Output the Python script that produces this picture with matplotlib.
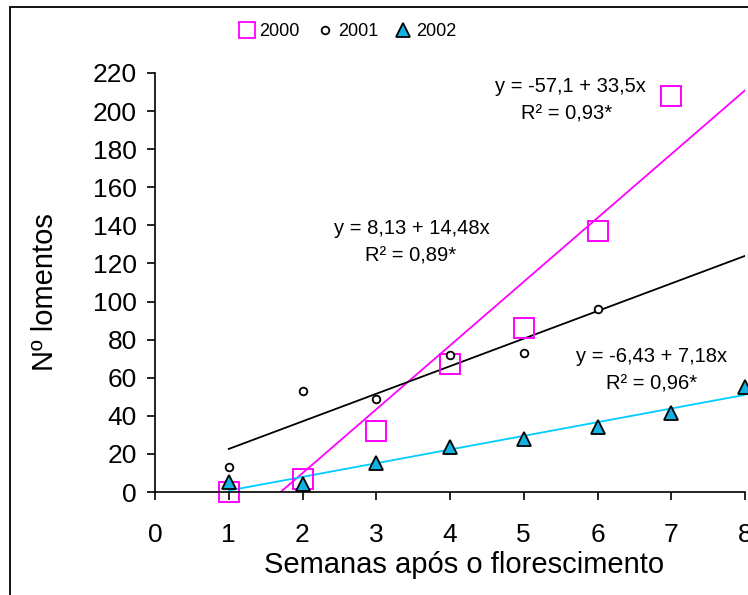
import matplotlib.pyplot as plt
import matplotlib.patches as mpatches
from matplotlib.lines import Line2D
import numpy as np

plt.rcParams['font.family'] = ['Liberation Sans', 'DejaVu Sans']

# Nº de lomentos por semana após o florescimento
semanas = [1, 2, 3, 4, 5, 6, 7]
y2000 = [0, 7, 32, 67, 86, 137, 208]
semanas_2001 = [1, 2, 3, 4, 5, 6]
y2001 = [13, 53, 49, 72, 73, 96]
semanas_2002 = [1, 2, 3, 4, 5, 6, 7, 8]
y2002 = [5, 4, 15, 23.5, 28, 34, 41.5, 55]

# Coeficientes das regressões (a + b*x) e R²
coef2000 = (-57.1, 33.5)
coef2001 = (8.13, 14.48)
coef2002 = (-6.43, 7.18)
r2 = {'2000': '0,93*', '2001': '0,89*', '2002': '0,96*'}

magenta = '#FF00FF'
azul = '#00CCFF'
azul_marc = '#13B2E3'

fig = plt.figure(figsize=(7.48, 5.95), dpi=100)
ax = fig.add_axes([155 / 748, 1 - 492 / 595, 590 / 748, 419 / 595])

xr = np.array([1, 8])
ax.plot(xr, coef2000[0] + coef2000[1] * xr, color=magenta, lw=1.3)
ax.plot(xr, coef2001[0] + coef2001[1] * xr, color='black', lw=1.3)
ax.plot(xr, coef2002[0] + coef2002[1] * xr, color=azul, lw=1.3)

ax.plot(semanas, y2000, 's', ms=14, mfc='none', mec=magenta, mew=1.4, clip_on=False)
ax.plot(semanas_2001, y2001, 'o', ms=5.5, mfc='white', mec='black', mew=1.3, clip_on=False)
ax.plot(semanas_2002, y2002, '^', ms=10, mfc=azul_marc, mec='black', mew=1.3, clip_on=False)

ax.set_xlim(0, 8)
ax.set_ylim(0, 220)
ax.set_xticks(range(0, 9))
ax.set_yticks(range(0, 221, 20))
for s in ['top', 'right']:
    ax.spines[s].set_visible(False)
for s in ['left', 'bottom']:
    ax.spines[s].set_linewidth(1.2)
ax.tick_params(axis='both', direction='out', length=6, width=1.2, labelsize=19)
ax.tick_params(axis='x', pad=16)
ax.tick_params(axis='y', pad=7)

ax.set_xlabel('Semanas após o florescimento', fontsize=21)
ax.xaxis.set_label_coords(0.524, -0.14)
ax.set_ylabel('Nº lomentos', fontsize=21)
ax.yaxis.set_label_coords(-0.163, 0.477)

# Equações
kw = dict(fontsize=14.5, ha='center', va='center', transform=fig.transFigure)
fig.text(570 / 748, 1 - 86 / 595, 'y = -57,1 + 33,5x', **kw)
fig.text(567 / 748, 1 - 114 / 595, 'R² = ' + r2['2000'], **kw)
fig.text(412 / 748, 1 - 229 / 595, 'y = 8,13 + 14,48x', **kw)
fig.text(411 / 748, 1 - 256 / 595, 'R² = ' + r2['2001'], **kw)
fig.text(652 / 748, 1 - 356 / 595, 'y = -6,43 + 7,18x', **kw)
fig.text(652 / 748, 1 - 384 / 595, 'R² = ' + r2['2002'], **kw)

handles = [
    Line2D([], [], ls='none', marker='s', ms=11, mfc='none', mec=magenta, mew=1.3),
    Line2D([], [], ls='none', marker='o', ms=5.5, mfc='white', mec='black', mew=1.3),
    Line2D([], [], ls='none', marker='^', ms=10, mfc=azul_marc, mec='black', mew=1.3),
]
fig.legend(handles, ['2000', '2001', '2002'], loc='center', ncol=3,
           bbox_to_anchor=(348 / 748, 1 - 32 / 595), frameon=False,
           fontsize=13, handlelength=0.8, handletextpad=0.3, columnspacing=1.0)

# Moldura da figura
fig.patches.append(mpatches.Rectangle((10 / 748, -0.1), 1.2, 1.1 - 7 / 595,
                                      transform=fig.transFigure, fill=False,
                                      ec='black', lw=1.3))

fig.savefig('out.png', dpi=100)
